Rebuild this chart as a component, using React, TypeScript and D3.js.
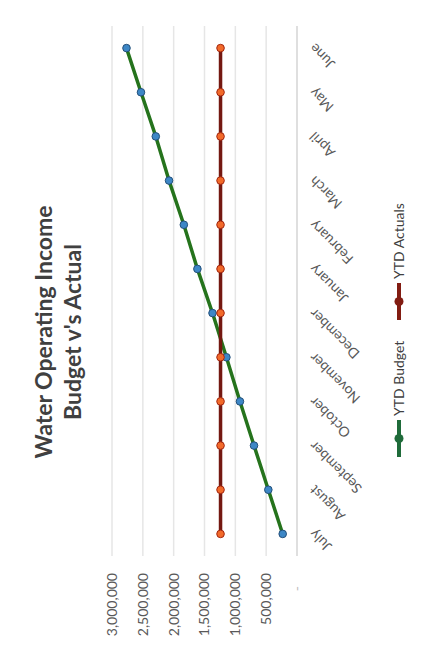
import React from 'react';
import * as d3 from 'd3';

const months = ['July', 'August', 'September', 'October', 'November', 'December', 'January', 'February', 'March', 'April', 'May', 'June'];
const ytdBudget = [232000, 465000, 697000, 925000, 1145000, 1370000, 1615000, 1835000, 2075000, 2290000, 2530000, 2765000];
const ytdActuals = [1240000, 1240000, 1240000, 1240000, 1240000, 1240000, 1240000, 1240000, 1240000, 1240000, 1240000, 1240000];
const valueTicks = [0, 500000, 1000000, 1500000, 2000000, 2500000, 3000000];
const seriesNames = ['YTD Budget', 'YTD Actuals'];
const titleLines = ['Water Operating Income', "Budget v's Actual"];

const FONT = "Lato, 'Open Sans', sans-serif";

export default function App() {
  // unrotated frame: width 652, height 422; then rotated -90deg
  const x = d3.scalePoint<string>().domain(months).range([96, 626]).padding(0.5);
  const y = d3.scaleLinear().domain([0, 3000000]).range([297, 112]);
  const line = d3
    .line<number>()
    .x((_, i) => x(months[i]) as number)
    .y((d) => y(d));
  const fmt = d3.format(',');

  const series = [
    { name: seriesNames[0], values: ytdBudget, line: '#25731c', fill: '#3d87c6', edge: '#24507a', legend: '#1f6b3a' },
    { name: seriesNames[1], values: ytdActuals, line: '#741811', fill: '#f26a2a', edge: '#a3260f', legend: '#821c12' },
  ];
  const legendPos = [195, 332];

  return (
    <svg width={422} height={652} style={{ position: 'absolute', left: 0, top: 0, background: '#fff' }}>
      <rect x={0} y={0} width={422} height={652} fill="#fff" />
      <g transform="translate(0,652) rotate(-90)" fontFamily={FONT}>
        {/* title */}
        {titleLines.map((t, i) => (
          <text key={t} x={320} y={52 + i * 29} textAnchor="middle" fontSize={23} fontWeight="bold" fill="#404040">
            {t}
          </text>
        ))}
        {/* gridlines */}
        {valueTicks.map((t) => (
          <line
            key={'g' + t}
            x1={96}
            x2={626}
            y1={y(t)}
            y2={y(t)}
            stroke={t === 0 ? '#d4d4d4' : '#e6e6e6'}
            strokeWidth={t === 0 ? 1.5 : 1.5}
          />
        ))}
        {/* value labels */}
        {valueTicks.map((t) => (
          <text
            key={'v' + t}
            x={t === 0 ? 66 : 79}
            y={y(t)}
            dy="0.35em"
            textAnchor="end"
            fontSize={14}
            fill={t === 0 ? '#bdbdbd' : '#595959'}
          >
            {t === 0 ? '-' : fmt(t)}
          </text>
        ))}
        {/* month labels */}
        {months.map((m) => (
          <text
            key={m}
            transform={`translate(${(x(m) as number) + 2},${312}) rotate(-45)`}
            textAnchor="end"
            dy="0.35em"
            fontSize={14}
            fill="#595959"
          >
            {m}
          </text>
        ))}
        {/* series */}
        {series.map((s) => (
          <g key={s.name}>
            <path d={line(s.values) || ''} fill="none" stroke={s.line} strokeWidth={3.5} strokeLinejoin="round" />
            {s.values.map((v, i) => (
              <circle key={i} cx={x(months[i])} cy={y(v)} r={3.8} fill={s.fill} stroke={s.edge} strokeWidth={1} />
            ))}
          </g>
        ))}
        {/* legend */}
        {series.map((s, i) => (
          <g key={'l' + s.name} transform={`translate(${legendPos[i]},399)`}>
            <line x1={0} x2={37} y1={0} y2={0} stroke={s.legend} strokeWidth={4} />
            <circle cx={18.5} cy={0} r={4.5} fill={s.legend} />
            <text x={41} y={0} dy="0.35em" fontSize={14} fill="#404040">
              {s.name}
            </text>
          </g>
        ))}
      </g>
    </svg>
  );
}
